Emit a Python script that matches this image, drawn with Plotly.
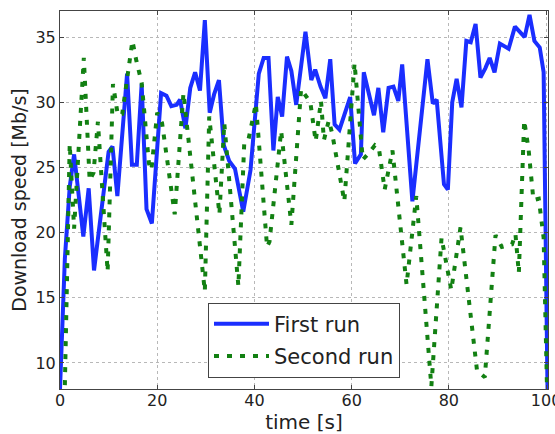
import plotly.graph_objects as go

# First run (blue, solid)
first_t = [0, 1, 2, 2.9, 4.8, 5.9, 7.0, 10.0, 10.8, 11.8, 13.8, 14.8, 15.8, 16.8, 17.8, 18.9,
           20.8, 21.9, 22.9, 24.0, 24.7, 25.8, 26.8, 27.8, 28.8, 29.8, 30.8, 31.7, 32.7, 33.7,
           34.8, 36.0, 37.7, 39.2, 40.9, 41.9, 42.9, 43.9, 44.8, 45.7, 46.7, 47.6, 48.6, 49.4,
           50.5, 51.7, 52.5, 53.6, 54.6, 55.6, 56.5, 57.5, 59.7, 60.7, 61.9, 62.5, 63.6, 64.6,
           65.5, 66.5, 67.6, 68.6, 69.6, 70.4, 72.5, 75.6, 76.7, 77.5, 79.0, 79.8, 80.7, 81.6,
           82.6, 83.6, 84.5, 85.5, 86.5, 87.5, 88.4, 89.4, 90.5, 92.3, 93.6, 95.6, 96.6, 97.6,
           98.7, 99.5, 100.3]
first_v = [8.0, 18.0, 23.5, 26.0, 19.7, 23.4, 17.1, 26.2, 26.6, 22.8, 32.2, 25.2, 25.2, 31.4, 21.8, 20.7,
           30.7, 30.5, 29.7, 29.8, 30.2, 28.0, 31.1, 32.3, 30.9, 36.3, 29.2, 30.6, 31.7, 26.7,
           25.5, 24.9, 21.6, 24.8, 32.2, 33.4, 33.4, 26.3, 30.4, 28.9, 33.5, 32.4, 29.8, 32.1,
           35.4, 31.7, 32.5, 31.2, 30.3, 33.3, 28.3, 27.9, 30.4, 25.3, 26.0, 32.3, 30.6, 29.0,
           31.1, 27.7, 31.1, 31.2, 30.1, 32.9, 22.4, 33.3, 29.9, 30.2, 23.7, 23.3, 30.0, 31.8,
           29.6, 34.7, 34.6, 36.0, 31.9, 32.6, 33.4, 32.3, 34.5, 34.1, 35.8, 35.0, 36.7, 34.7,
           34.2, 32.3, 8.0]

# Second run (green, dotted)
second_t = [1.0, 2.0, 2.9, 4.9, 6.1, 6.9, 7.8, 9.8, 10.9, 11.9, 12.8, 14.9, 15.7, 16.8, 18.3, 18.8,
            20.0, 21.0, 23.6, 25.4, 29.8, 30.7, 32.8, 33.8, 36.7, 37.9, 38.7, 40.3, 42.6, 43.1,
            45.5, 47.6, 49.6, 51.5, 52.6, 53.7, 54.3, 55.3, 56.0, 58.5, 60.6, 62.3, 63.3, 64.8,
            65.6, 66.8, 68.4, 71.3, 73.3, 76.4, 78.5, 80.5, 82.4, 85.8, 87.4, 89.6, 90.9, 93.0,
            93.7, 94.4, 95.5, 96.4, 97.4, 98.5, 99.5, 100.2]
second_v = [8.3, 26.8, 20.3, 33.4, 24.0, 24.6, 28.5, 17.0, 31.4, 29.0, 29.1, 34.7, 33.2, 31.5, 25.3, 24.8,
            29.2, 28.4, 21.4, 30.7, 15.5, 28.9, 21.4, 28.4, 15.9, 26.8, 27.0, 29.9, 18.9, 19.3,
            27.8, 20.6, 31.0, 30.0, 27.0, 30.1, 27.1, 28.6, 27.6, 22.4, 33.0, 25.6, 26.0, 26.7,
            26.5, 23.3, 26.3, 16.0, 22.8, 8.2, 19.6, 15.6, 20.4, 9.4, 8.9, 19.8, 18.9, 19.1,
            19.9, 16.9, 28.6, 26.4, 22.5, 22.6, 19.6, 8.0]

x_ticks = [0, 20, 40, 60, 80, 100]
y_ticks = [10, 15, 20, 25, 30, 35]

FONT = "DejaVu Sans"

fig = go.Figure()
fig.add_trace(go.Scatter(x=first_t, y=first_v, mode="lines", name="First run",
                         legendgroup="a",
                         line=dict(color="#1a2eff", width=4)))
fig.add_trace(go.Scatter(x=second_t, y=second_v, mode="lines", name="Second run",
                         legendgroup="b",
                         line=dict(color="#128012", width=4, dash="5px,8px")))

axis_common = dict(showline=True, linecolor="#444", linewidth=1, mirror="ticks",
                   ticks="inside", ticklen=4, tickcolor="#444",
                   showgrid=True, gridcolor="#b8b8b8", griddash="dot", gridwidth=1,
                   zeroline=False, automargin=False, ticklabeloverflow="allow",
                   tickfont=dict(family=FONT, size=16, color="#222"))

fig.update_xaxes(range=[0, 100.4], tickvals=x_ticks, ticktext=[str(v) for v in x_ticks],
                 ticklabelstandoff=-3,
                 title=dict(text="time [s]", font=dict(family=FONT, size=20, color="#222"), standoff=3),
                 **axis_common)
fig.update_yaxes(range=[8, 37], tickvals=y_ticks, ticktext=[str(v) for v in y_ticks],
                 title=dict(text="Download speed [Mb/s]", font=dict(family=FONT, size=19, color="#222"), standoff=3),
                 **axis_common)

fig.update_layout(
    width=555, height=434,
    margin=dict(l=60, r=7, t=11, b=45),
    plot_bgcolor="white", paper_bgcolor="white",
    font=dict(family=FONT, color="#222"),
    legend=dict(x=0.5, xanchor="center", y=0.03, yanchor="bottom",
                bgcolor="white", bordercolor="#444", borderwidth=1,
                font=dict(family=FONT, size=21, color="#222"),
                tracegroupgap=2, itemwidth=55),
    showlegend=True,
)

fig.write_html("out.html", config={"displayModeBar": False},
               post_script="document.body.style.margin='0px';")
